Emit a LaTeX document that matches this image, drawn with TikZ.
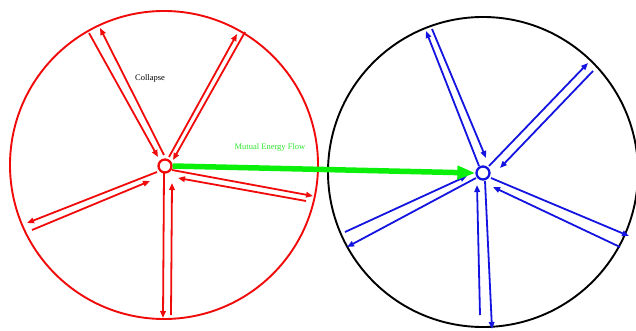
\documentclass[tikz,border=0pt]{standalone}
\usepackage{fontspec}
\setmainfont{Liberation Serif}
\usetikzlibrary{arrows.meta}
\definecolor{myred}{RGB}{240,10,10}
\definecolor{myblue}{RGB}{20,20,225}
\definecolor{mygreen}{RGB}{10,240,10}
\definecolor{txtgreen}{RGB}{50,230,50}
\tikzset{
  spoke/.style={line width=1.8pt, -{Triangle[length=7pt,width=5.5pt]}},
  bigcirc/.style={line width=1.9pt},
  hub/.style={circle, draw, line width=2.3pt, minimum size=13pt, inner sep=0pt},
  lbl/.style={inner sep=0pt, font=\fontsize{8.5}{10}\selectfont}
}
\begin{document}
\begin{tikzpicture}[x=1pt,y=-1pt]
\useasboundingbox (0,0) rectangle (636,331);
\clip (0,0) rectangle (636,331);
\fill[white] (0,0) rectangle (636,331);
% big circles
\draw[bigcirc, myred] (164,165) circle[radius=154];
\draw[bigcirc, black] (483,172) circle[radius=155];
% red spokes
\begin{scope}[myred]
\coordinate (r1a) at (164,155); \coordinate (r1b) at (100,28);
\coordinate (r1c) at (89,33);   \coordinate (r1d) at (158,157);
\coordinate (r2a) at (169,157); \coordinate (r2b) at (237,34);
\coordinate (r2c) at (245,32);  \coordinate (r2d) at (173,160);
\coordinate (r3a) at (157,172); \coordinate (r3b) at (27,223);
\coordinate (r3c) at (32,230);  \coordinate (r3d) at (150,181);
\coordinate (r4a) at (164,173); \coordinate (r4b) at (163,318);
\coordinate (r4c) at (171,315); \coordinate (r4d) at (172,183);
\coordinate (r5a) at (172,170); \coordinate (r5b) at (313,196);
\coordinate (r5c) at (306,201); \coordinate (r5d) at (178,178);
\draw[spoke] (r1a) -- (r1b); \draw[spoke] (r1c) -- (r1d);
\draw[spoke] (r2a) -- (r2b); \draw[spoke] (r2c) -- (r2d);
\draw[spoke] (r3a) -- (r3b); \draw[spoke] (r3c) -- (r3d);
\draw[spoke] (r4a) -- (r4b); \draw[spoke] (r4c) -- (r4d);
\draw[spoke] (r5a) -- (r5b); \draw[spoke] (r5c) -- (r5d);
\end{scope}
% blue spokes
\begin{scope}[myblue]
\coordinate (b1a) at (479,166); \coordinate (b1b) at (426,31);
\coordinate (b1c) at (432,29);  \coordinate (b1d) at (486,158);
\coordinate (b2a) at (489,166); \coordinate (b2b) at (588,63);
\coordinate (b2c) at (593,71);  \coordinate (b2d) at (500,168);
\coordinate (b3a) at (476,178); \coordinate (b3b) at (347,247);
\coordinate (b3c) at (345,232); \coordinate (b3d) at (467,176);
\coordinate (b4a) at (485,181); \coordinate (b4b) at (492,329);
\coordinate (b4c) at (480,315); \coordinate (b4d) at (477,185);
\coordinate (b5a) at (491,178); \coordinate (b5b) at (629,236);
\coordinate (b5c) at (620,247); \coordinate (b5d) at (493,187);
\draw[spoke] (b1a) -- (b1b); \draw[spoke] (b1c) -- (b1d);
\draw[spoke] (b2a) -- (b2b); \draw[spoke] (b2c) -- (b2d);
\draw[spoke] (b3a) -- (b3b); \draw[spoke] (b3c) -- (b3d);
\draw[spoke] (b4a) -- (b4b); \draw[spoke] (b4c) -- (b4d);
\draw[spoke] (b5a) -- (b5b); \draw[spoke] (b5c) -- (b5d);
\end{scope}
% hubs
\node[hub, draw=myred, fill=white] (hubR) at (165,166) {};
\node[hub, draw=myblue, fill=white] (hubB) at (483,173) {};
% energy flow
\draw[mygreen, line width=5.5pt, -{Triangle[length=18pt,width=13pt]}] (hubR.east) -- (hubB.west);
% labels
\node[lbl, txtgreen] (mef) at (270,147.5) {Mutual Energy Flow};
\node[lbl, black] (col) at (150,78) {Collapse};
\end{tikzpicture}
\end{document}
